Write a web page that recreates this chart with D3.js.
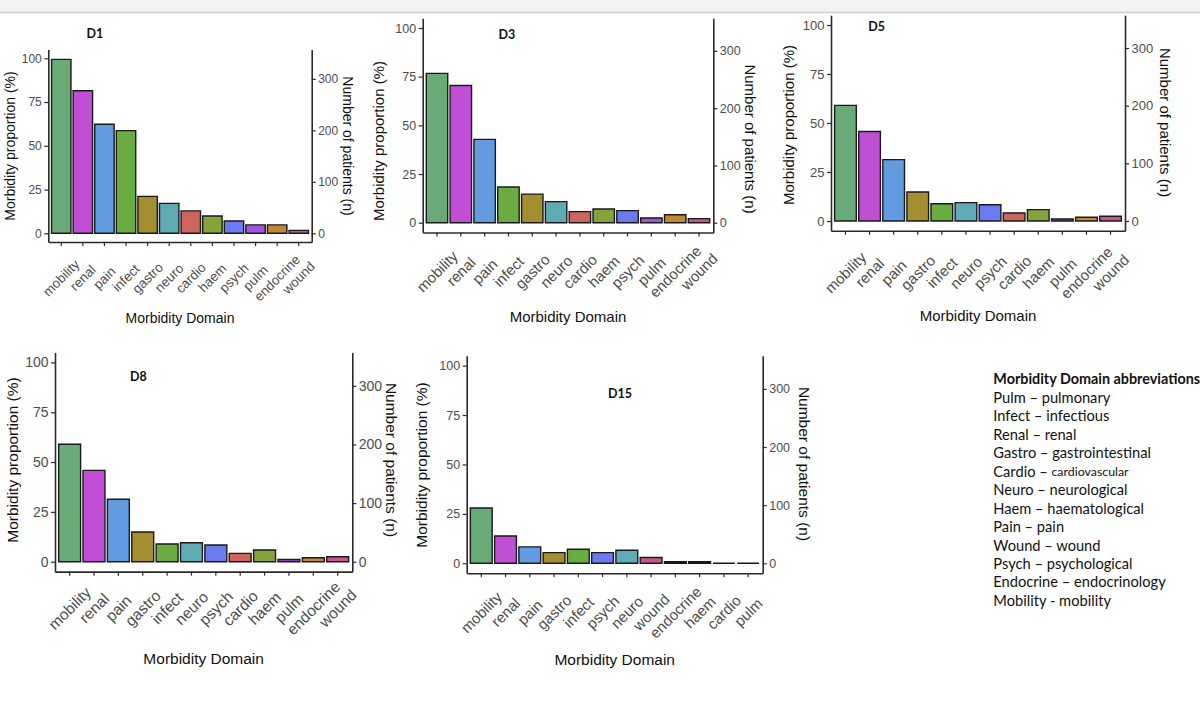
<!DOCTYPE html>
<html><head><meta charset="utf-8">
<script src="https://cdn.jsdelivr.net/npm/d3@7"></script>
<style>body{margin:0;background:#fff;} svg{display:block}</style>
</head><body><svg id="c" width="1200" height="701"></svg>
<script>
// ---------- data ----------
const categories = ["mobility","renal","pain","infect","gastro","neuro","cardio","haem","psych","pulm","endocrine","wound"];
const panelNames = ["D1","D3","D5","D8","D15"];

const orderD1 = ["mobility","renal","pain","infect","gastro","neuro","cardio","haem","psych","pulm","endocrine","wound"];
const valuesD1 = [99.4,81.5,62.3,58.7,21.1,17.1,12.8,9.9,7.0,4.8,4.8,1.7];

const orderD3 = ["mobility","renal","pain","infect","gastro","neuro","cardio","haem","psych","pulm","endocrine","wound"];
const valuesD3 = [76.7,70.5,42.8,18.3,14.7,10.8,5.7,7.0,6.2,2.4,4.1,2.1];

const orderD5 = ["mobility","renal","pain","gastro","infect","neuro","psych","cardio","haem","pulm","endocrine","wound"];
const valuesD5 = [59.0,45.7,31.3,14.8,8.8,9.4,8.3,4.1,5.8,1.0,1.9,2.4];

const orderD8 = ["mobility","renal","pain","gastro","infect","neuro","psych","cardio","haem","pulm","endocrine","wound"];
const valuesD8 = [58.9,45.8,31.3,14.9,8.9,9.5,8.4,4.2,5.9,1.1,2.0,2.5];

const orderD15 = ["mobility","renal","pain","gastro","infect","psych","neuro","wound","endocrine","haem","cardio","pulm"];
const valuesD15 = [28.0,13.8,8.3,5.4,7.1,5.4,6.6,2.9,0.8,0.8,0,0];

const proportionTicks = [0,25,50,75,100];
const patientTicks = [0,100,200,300];
const patientsAt100 = 340;

const abbrevTitle = "Morbidity Domain abbreviations";
const abbrevShort = ["Pulm","Infect","Renal","Gastro","Cardio","Neuro","Haem","Pain","Wound","Psych","Endocrine","Mobility"];
const abbrevSep   = [" \u2013 "," \u2013 "," \u2013 "," \u2013 "," \u2013 "," \u2013 "," \u2013 "," \u2013 "," \u2013 "," \u2013 "," \u2013 "," - "];
const abbrevFull  = ["pulmonary","infectious","renal","gastrointestinal","cardiovascular","neurological","haematological","pain","wound","psychological","endocrinology","mobility"];

// ---------- style ----------
const domainColors = ["#6aaa78","#c04fd6","#629be0","#6aac40","#a38f30","#5faab5","#cc665c","#84a33a","#6b7af0","#a453e0","#c08a35","#c9558f"];
const color = d3.scaleOrdinal().domain(categories).range(domainColors);

const panels = [
  {order:orderD1, values:valuesD1},
  {order:orderD3, values:valuesD3},
  {order:orderD5, values:valuesD5},
  {order:orderD8, values:valuesD8},
  {order:orderD15, values:valuesD15}
];

const layout = [
  {left:48.3, right:311.7, y0:233.3, y100:58.3, title:[95,33], yLab:[10,146], rLab:[348,146], xLabY:318, tickOff:36, fT:14, fX:13.3, fY:12},
  {left:422.7, right:713.3, y0:222.7, y100:28, title:[507,34], yLab:[378,141], rLab:[750,139], xLabY:316.7, tickOff:39, fT:15, fX:15, fY:12.5},
  {left:831, right:1125, y0:221, y100:25, title:[876.7,26], yLab:[788,125], rLab:[1165.5,122.5], xLabY:315, tickOff:41.7, fT:15, fX:15, fY:13},
  {left:55, right:352.3, y0:561.7, y100:362.4, title:[138.3,376.7], yLab:[12,460], rLab:[391,460], xLabY:658, tickOff:36.5, fT:15.5, fX:15.5, fY:14},
  {left:466.7, right:762.7, y0:563.3, y100:365.6, title:[620,393], yLab:[421.7,465], rLab:[804,464], xLabY:659, tickOff:39, fT:15.5, fX:15, fY:12.5}
];

const svg = d3.select("#c");
svg.append("rect").attr("width",1200).attr("height",701).attr("fill","#fff");
svg.append("rect").attr("width",1200).attr("height",12).attr("fill","#f3f3f3");
svg.append("line").attr("x1",0).attr("x2",1200).attr("y1",12.5).attr("y2",12.5).attr("stroke","#cfcfcf").attr("stroke-width",1.5);

const axisFont = "'Liberation Sans', Arial, sans-serif";
const AX = "#2b2b2b";

panels.forEach((p, i) => {
  const L = layout[i];
  const k = (L.y0 - L.y100) / 100;
  const yBottom = L.y0 + 5*k, yTop = L.y100 - 5*k;
  const y = d3.scaleLinear().domain([-5,105]).range([yBottom, yTop]);
  const yR = d3.scaleLinear().domain([-5*patientsAt100/100, 105*patientsAt100/100]).range([yBottom, yTop]);
  const x = d3.scaleBand().domain(p.order).range([L.left, L.right]).paddingInner(0.1).paddingOuter(0.15);
  const g = svg.append("g");

  // bars (paths so zero-height bars still show their outline)
  g.selectAll("path.bar").data(p.order.map((c,j)=>({c, v:p.values[j]}))).join("path")
    .attr("class","bar")
    .attr("d", d => {
      const x0 = x(d.c), x1 = x0 + x.bandwidth(), yb = y(0), yt = y(d.v);
      return `M${x0},${yb}V${yt}H${x1}V${yb}Z`;
    })
    .attr("fill", d => color(d.c))
    .attr("stroke", "#1a1a1a").attr("stroke-width", 1.4);

  const ga = g.append("g").attr("transform",`translate(${L.left},0)`)
    .call(d3.axisLeft(y).tickValues(proportionTicks).tickSize(4).tickSizeOuter(0).tickPadding(2.5));
  const gr = g.append("g").attr("transform",`translate(${L.right},0)`)
    .call(d3.axisRight(yR).tickValues(patientTicks).tickSize(4).tickSizeOuter(0).tickPadding(2.5));
  const gb = g.append("g").attr("transform",`translate(0,${yBottom})`)
    .call(d3.axisBottom(x).tickSize(4).tickSizeOuter(0));
  gb.selectAll(".tick text")
    .attr("y",0).attr("dy",null)
    .attr("transform",`translate(0,${L.tickOff}) rotate(-45)`)
    .attr("text-anchor","middle").attr("dominant-baseline","central")
    .attr("font-size",L.fX);

  [ga,gr,gb].forEach(a => {
    a.select(".domain").attr("stroke",AX).attr("stroke-width",1.6);
    a.selectAll(".tick line").attr("stroke",AX).attr("stroke-width",1.2);
    a.selectAll(".tick text").attr("fill","#4d4d4d").attr("font-family",axisFont);
  });
  ga.selectAll(".tick text").attr("font-size",L.fY);
  gr.selectAll(".tick text").attr("font-size",L.fY);

  g.append("text").attr("transform",`translate(${L.yLab[0]},${L.yLab[1]}) rotate(-90)`)
    .attr("text-anchor","middle").attr("dominant-baseline","central")
    .attr("font-family",axisFont).attr("font-size",L.fT).attr("fill","#111")
    .text("Morbidity proportion (%)");
  g.append("text").attr("transform",`translate(${L.rLab[0]},${L.rLab[1]}) rotate(90)`)
    .attr("text-anchor","middle").attr("dominant-baseline","central")
    .attr("font-family",axisFont).attr("font-size",L.fT).attr("fill","#111")
    .text("Number of patients (n)");
  g.append("text").attr("x",(L.left+L.right)/2).attr("y",L.xLabY)
    .attr("text-anchor","middle").attr("dominant-baseline","central")
    .attr("font-family",axisFont).attr("font-size",L.fT).attr("fill","#111")
    .text("Morbidity Domain");

  g.append("text").attr("x",L.title[0]).attr("y",L.title[1])
    .attr("text-anchor","middle").attr("dominant-baseline","central")
    .attr("font-family","Lato, 'Open Sans', sans-serif").attr("font-weight",700)
    .attr("font-size",12.5).attr("fill","#111")
    .text(panelNames[i]);
});

// abbreviation list
const lg = svg.append("g").attr("font-family","Lato, 'Open Sans', sans-serif").attr("fill","#111");
const lx = 993.3, ly0 = 378.3, lstep = 18.47;
const t0 = lg.append("text").attr("x",lx).attr("y",ly0).attr("dominant-baseline","central")
  .attr("font-weight",700).attr("font-size",14).text(abbrevTitle);
const w = t0.node().getComputedTextLength();
const fs = 14 * 207 / w;
t0.attr("font-size", fs);
abbrevShort.forEach((s, j) => {
  const t = lg.append("text").attr("x",lx).attr("y",ly0 + (j+1)*lstep)
    .attr("dominant-baseline","central").attr("font-size",fs*1.02);
  t.append("tspan").text(s + abbrevSep[j]);
  t.append("tspan").attr("font-size", abbrevFull[j]==="cardiovascular" ? fs*0.86 : fs*1.02).text(abbrevFull[j]);
});
</script></body></html>
